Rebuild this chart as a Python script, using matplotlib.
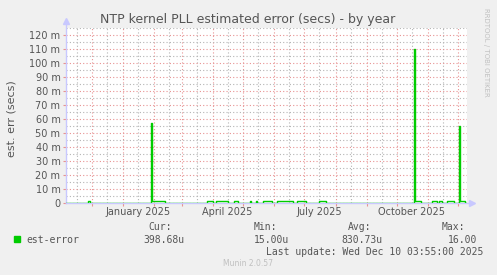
import matplotlib
matplotlib.use("Agg")
import matplotlib.pyplot as plt
import matplotlib.dates as mdates
import matplotlib.transforms as mtransforms
from matplotlib.ticker import MultipleLocator, FuncFormatter
import pandas as pd

# time window of the yearly graph
t_start = pd.Timestamp("2024-11-05 03:55")
t_end = pd.Timestamp("2025-12-10 03:55")

# estimated error, milliseconds; baseline plus read-off episodes
baseline_ms = 0.3
seg_start = ["2024-11-27", "2025-01-29", "2025-01-30", "2025-03-26", "2025-04-04",
             "2025-04-22", "2025-05-08", "2025-05-14", "2025-05-21", "2025-06-04",
             "2025-06-24", "2025-07-16", "2025-10-18", "2025-10-19", "2025-11-05",
             "2025-11-12", "2025-11-20", "2025-12-02", "2025-12-03"]
seg_end = ["2024-11-29", "2025-01-30", "2025-02-12", "2025-04-01", "2025-04-16",
           "2025-04-26", "2025-05-09", "2025-05-15", "2025-05-30", "2025-06-20",
           "2025-07-03", "2025-07-23", "2025-10-19", "2025-10-25", "2025-11-10",
           "2025-11-15", "2025-11-27", "2025-12-03", "2025-12-08"]
seg_level = [1.2, 57.0, 1.2, 1.2, 1.2,
             1.2, 1.2, 1.2, 1.2, 1.2,
             1.2, 1.2, 110.0, 1.2, 1.2,
             1.2, 1.2, 55.0, 1.2]

# x axis labels
label_dates = ["2025-01-16", "2025-04-15", "2025-07-16", "2025-10-16"]
label_text = ["January 2025", "April 2025", "July 2025", "October 2025"]

# legend values
legend_name = "est-error"
cur_val, min_val, avg_val, max_val = "398.68u", "15.00u", "830.73u", "16.00"
last_update = "Last update: Wed Dec 10 03:55:00 2025"

days = pd.date_range(t_start.normalize(), t_end.normalize(), freq="D")
series = pd.Series(baseline_ms, index=days)
for s, e, v in zip(seg_start, seg_end, seg_level):
    series[(series.index >= pd.Timestamp(s)) & (series.index < pd.Timestamp(e))] = v

TXT = "#555555"
GREEN = "#00CC00"
AXC = "#C8C8FF"

fig = plt.figure(figsize=(4.97, 2.75), dpi=100, facecolor="#F0F0F0")
ax = fig.add_axes([66 / 497, 72 / 275, 401 / 497, 175 / 275])
ax.set_facecolor("white")

ax.plot(series.index, series.values, drawstyle="steps-post", color=GREEN, lw=1.0, zorder=3)

ax.set_xlim(t_start, t_end)
ax.set_ylim(0, 125)

# grid
ax.xaxis.set_major_locator(mdates.MonthLocator())
ax.xaxis.set_minor_locator(mdates.MonthLocator(bymonthday=16))
ax.xaxis.set_major_formatter(plt.NullFormatter())
ax.yaxis.set_major_locator(MultipleLocator(10))
ax.yaxis.set_minor_locator(MultipleLocator(5))
ax.yaxis.set_major_formatter(FuncFormatter(lambda v, p: "0" if v == 0 else f"{v:.0f} m"))
ax.grid(which="minor", color="#B4B4B4", ls=(0, (1, 2)), lw=0.8)
ax.grid(which="major", color="#E89292", ls=(0, (1, 2)), lw=0.8)
ax.set_axisbelow(True)
ax.tick_params(axis="y", which="major", length=2, color="#E89292", labelsize=7, labelcolor=TXT, pad=2)
ax.tick_params(axis="x", which="major", length=2, color="#E89292", labelsize=7)
ax.tick_params(which="minor", length=0)
for s in ax.spines.values():
    s.set_visible(False)

# axis lines with arrows
ax.plot([0, 0], [0, 1.04], transform=ax.transAxes, color=AXC, lw=1, clip_on=False, zorder=1)
ax.plot([0, 1.012], [0, 0], transform=ax.transAxes, color=AXC, lw=1, clip_on=False, zorder=1)
ax.plot([0], [1.04], transform=ax.transAxes, marker="^", color=AXC, ms=4, clip_on=False)
ax.plot([1.012], [0], transform=ax.transAxes, marker=">", color=AXC, ms=4, clip_on=False)

trans = mtransforms.blended_transform_factory(ax.transData, ax.transAxes)
for d, t in zip(label_dates, label_text):
    ax.text(pd.Timestamp(d), -0.025, t, transform=trans, ha="center", va="top",
            fontsize=7, color=TXT)

fig.text(248 / 497, 1 - 19 / 275, "NTP kernel PLL estimated error (secs) - by year",
         ha="center", va="center", fontsize=9, color=TXT)
fig.text(12 / 497, 1 - 119 / 275, "est. err (secs)", rotation=90, ha="center", va="center",
         fontsize=8, color=TXT)
fig.text(486 / 497, 1 - 52 / 275, "RRDTOOL / TOBI OETIKER", rotation=270, ha="center",
         va="center", fontsize=5, color="#C0C0C0")

# legend block
mono = dict(family="DejaVu Sans Mono", fontsize=7, color=TXT, va="center")
fig.patches.append(plt.Rectangle((14 / 497, 1 - 242 / 275), 6 / 497, 6 / 275,
                                 transform=fig.transFigure, color=GREEN))
fig.text(26 / 497, 1 - 240 / 275, legend_name, **mono)
for xr, head, val in [(184, "Cur:", cur_val), (289, "Min:", min_val),
                      (383, "Avg:", avg_val), (477, "Max:", max_val)]:
    fig.text((xr - 12) / 497, 1 - 227 / 275, head, ha="right", **mono)
    fig.text(xr / 497, 1 - 240 / 275, val, ha="right", **mono)
fig.text(483 / 497, 1 - 252 / 275, last_update, ha="right", **mono)
fig.text(248 / 497, 1 - 264 / 275, "Munin 2.0.57", ha="center", va="center",
         fontsize=5.5, color="#C0C0C0")

fig.savefig("out.png", dpi=100, facecolor=fig.get_facecolor())
